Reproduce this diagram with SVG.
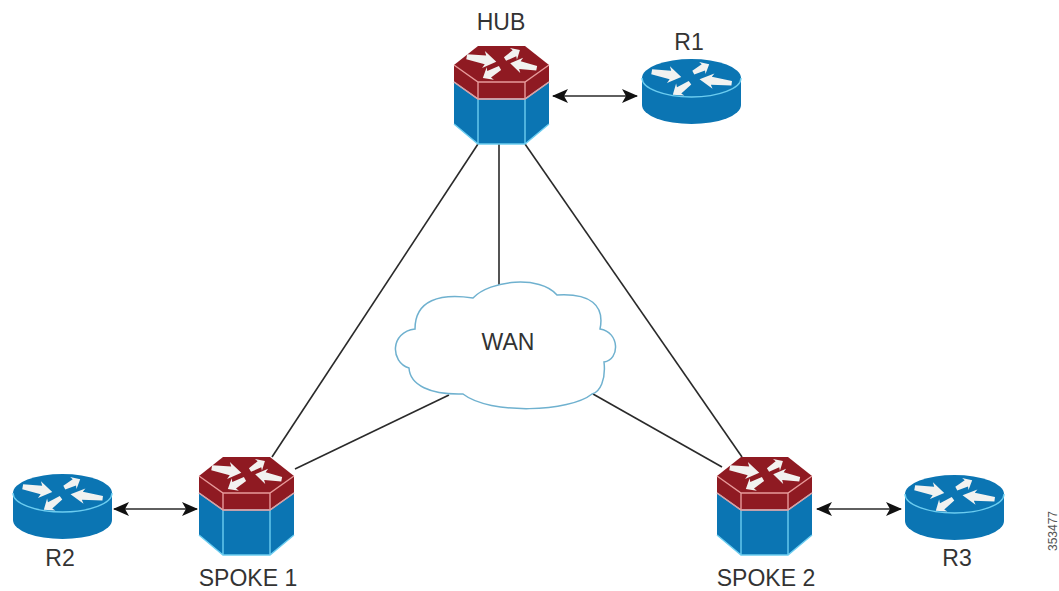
<svg xmlns="http://www.w3.org/2000/svg" xmlns:xlink="http://www.w3.org/1999/xlink" width="1059" height="591" viewBox="0 0 1059 591">
<style>
text{font-family:"Liberation Sans",Arial,sans-serif;font-size:23px;fill:#333;text-anchor:middle}
.link{stroke:#2a2a2a;stroke-width:1.6;fill:none}
.dbl{stroke:#2a2a2a;stroke-width:1.6;fill:none;marker-start:url(#head);marker-end:url(#head)}
.hline{stroke:#6ccdf0;stroke-width:1.4;fill:none}
.rline{stroke:#e79a9a;stroke-width:1.4;fill:none}
.blue{fill:#0b75b3}
.red{fill:#8f1a22}
.wa{fill:#f2f2f0}
.num{font-size:12px;fill:#555}
</style>
<defs>
<marker id="head" viewBox="0 0 16 14" refX="15" refY="7" markerWidth="16" markerHeight="14" markerUnits="userSpaceOnUse" orient="auto-start-reverse"><path d="M0,0 L16,7 L0,14 L4,7 Z" fill="#111"/></marker>
<path id="a" d="M0,-2.6 L19,-4.4 L17,-8.5 L30,0 L17,8.5 L19,4.4 L0,2.6 Z"/>
<g id="arrowsH" class="wa">
<use xlink:href="#a" transform="translate(12.7,10.7) rotate(9.5)"/>
<use xlink:href="#a" transform="translate(51,13) rotate(-31) scale(.58,.8)"/>
<use xlink:href="#a" transform="translate(82.7,22.3) rotate(191) scale(.9,.9)"/>
<use xlink:href="#a" transform="translate(46,22) rotate(150) scale(.66,.85)"/>
</g>
<g id="hex">
<polygon class="blue" points="0,36 24,53 71,53 95,36 95,78 71,98 24,98 0,78"/>
<polygon class="red" points="24,0 71,0 95,19 95,36 71,53 24,53 0,36 0,19"/>
<path class="hline" d="M0,36 L24,53 L71,53 L95,36 M24,53 V98 M71,53 V98 M0,78 L24,98 H71 L95,78"/>
<path class="rline" d="M0,19 L24,36 H71 L95,19 M24,36 V53 M71,36 V53 M0,36 L24,53 H71 L95,36"/>
<use xlink:href="#arrowsH"/>
</g>
<g id="router">
<path class="blue" d="M0,19 V46 A49.5,19 0 0 0 99,46 V19 Z"/>
<ellipse class="blue" cx="49.5" cy="19" rx="49.5" ry="19"/>
<path class="hline" d="M0,19 A49.5,19 0 0 0 99,19"/>
<g class="wa">
<use xlink:href="#a" transform="translate(9.7,12.7) rotate(10)"/>
<use xlink:href="#a" transform="translate(51.3,13.7) rotate(-28) scale(.6,.8)"/>
<use xlink:href="#a" transform="translate(89.7,24.3) rotate(187) scale(1.08,.9)"/>
<use xlink:href="#a" transform="translate(48,23.7) rotate(145) scale(.7,.85)"/>
</g>
</g>
</defs>
<g id="connectors">
<line class="link" x1="478" y1="144" x2="272" y2="457"/>
<line class="link" x1="525" y1="144" x2="742" y2="457"/>
<line class="link" x1="499" y1="144" x2="499" y2="285"/>
<line class="link" x1="449" y1="395" x2="295" y2="469"/>
<line class="link" x1="593" y1="394" x2="722" y2="467"/>
<line class="dbl" x1="553" y1="96" x2="637" y2="96"/>
<line class="dbl" x1="114" y1="509" x2="197" y2="509"/>
<line class="dbl" x1="817" y1="509" x2="901" y2="509"/>
</g>
<g id="wan">
<path d="M473,298 C490,280 540,275 557,295 C590,293 605,305 600,329 C620,332 620,360 604,362 C606,380 600,392 592,394 C570,412 490,415 463,394 C430,395 410,385 409,368 C390,362 390,332 415,329 C415,300 440,293 473,298 Z" fill="#fff" stroke="#6fb1cf" stroke-width="1.5"/>
<text x="508" y="350">WAN</text>
</g>
<g id="hub"><use xlink:href="#hex" x="454" y="46"/><text x="501" y="30">HUB</text></g>
<g id="spoke1"><use xlink:href="#hex" x="199" y="457"/><text x="248" y="586">SPOKE 1</text></g>
<g id="spoke2"><use xlink:href="#hex" x="717" y="457"/><text x="766" y="586">SPOKE 2</text></g>
<g id="r1"><use xlink:href="#router" x="642" y="59"/><text x="689" y="50">R1</text></g>
<g id="r2"><use xlink:href="#router" x="13" y="474"/><text x="60" y="566">R2</text></g>
<g id="r3"><use xlink:href="#router" x="905" y="475"/><text x="957" y="566">R3</text></g>
<text class="num" transform="translate(1057,531) rotate(-90)">353477</text>
</svg>
